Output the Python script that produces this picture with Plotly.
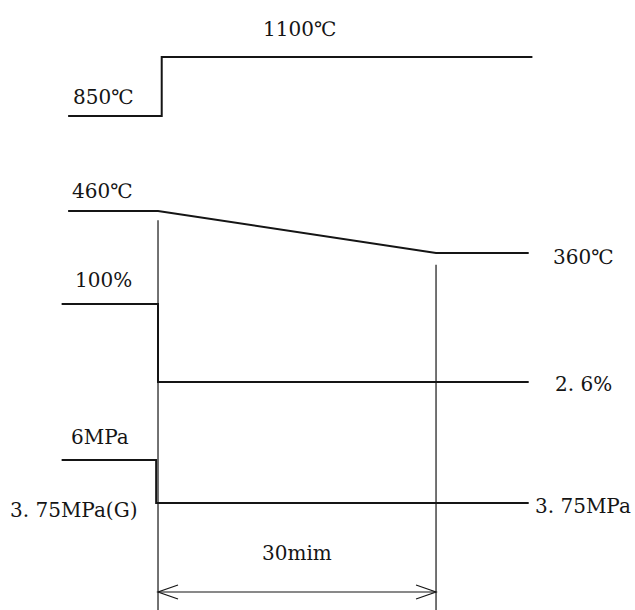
import plotly.graph_objects as go

# Time axis in minutes: 0 = switch-over, 30 = end of ramp
furnace_t = [-9.7, 0.4, 0.4, 40.4]
furnace_temp = [850, 850, 1100, 1100]          # ℃

gas_t = [-9.7, 0.0, 30.0, 40.0]
gas_temp = [460, 460, 360, 360]                # ℃

load_t = [-10.4, 0.0, 0.0, 40.0]
load_pct = [100, 100, 2.6, 2.6]                # %

press_t = [-10.4, -0.2, -0.2, 40.0]
press_mpa = [6, 6, 3.75, 3.75]                 # MPa

span_start, span_end = 0, 30
span_label = "30mim"

INK = "#151515"
FONT = dict(family="DejaVu Serif, Noto Sans CJK SC, serif", size=20, color=INK)

fig = go.Figure()
series = [
    (furnace_t, furnace_temp, "y"),
    (gas_t, gas_temp, "y2"),
    (load_t, load_pct, "y3"),
    (press_t, press_mpa, "y4"),
]
for t, v, ax in series:
    fig.add_trace(go.Scatter(x=t, y=v, yaxis=ax, mode="lines",
                             line=dict(color=INK, width=2), showlegend=False,
                             hoverinfo="skip"))

# vertical guides at the start and end of the 30 min span
fig.add_shape(type="line", xref="x", yref="paper", x0=span_start, x1=span_start,
              y0=0, y1=0.639, line=dict(color=INK, width=1.2))
fig.add_shape(type="line", xref="x", yref="paper", x0=span_end, x1=span_end,
              y0=0, y1=0.566, line=dict(color=INK, width=1.2))

# dimension arrow with open chevron heads
arrow_y = 0.0295
fig.add_shape(type="line", xref="x", yref="paper", x0=span_start, x1=span_end,
              y0=arrow_y, y1=arrow_y, line=dict(color=INK, width=1.2))
for x_tip, sign in [(span_start, 1), (span_end, -1)]:
    fig.add_shape(type="path", xref="x", yref="paper",
                  xsizemode="pixel", ysizemode="pixel",
                  xanchor=x_tip, yanchor=arrow_y,
                  path=f"M {20*sign},7 L 0,0 L {20*sign},-7",
                  line=dict(color=INK, width=1.2))

labels = [
    ("1100℃", 15.3, 1100, "y", 28),
    ("850℃", -5.9, 850, "y", 19),
    ("460℃", -6.0, 460, "y2", 20),
    ("360℃", 45.9, 360, "y2", -4),
    ("100%", -5.9, 100, "y3", 24),
    ("2. 6%", 45.9, 2.6, "y3", -2),
    ("6MPa", -6.3, 6, "y4", 23),
    ("3. 75MPa(G)", -9.1, 3.75, "y4", -7),
    ("3. 75MPa", 45.9, 3.75, "y4", -3),
]
for text, x, y, ax, dy in labels:
    fig.add_annotation(text=text, x=x, y=y, xref="x", yref=ax, yshift=dy,
                       showarrow=False, font=FONT)
fig.add_annotation(text=span_label, x=(span_start + span_end) / 2, y=arrow_y,
                   xref="x", yref="paper", yshift=25, showarrow=False, font=FONT)

hidden = dict(visible=False, showgrid=False, zeroline=False, fixedrange=True)
fig.update_layout(
    width=635, height=610,
    margin=dict(l=0, r=0, t=0, b=0),
    paper_bgcolor="white", plot_bgcolor="white",
    xaxis=dict(range=[-17.05, 51.47], **hidden),
    yaxis=dict(range=[-1243, 1341.5], **hidden),
    yaxis2=dict(range=[-490, 962.4], overlaying="y", **hidden),
    yaxis3=dict(range=[-282.1, 479.6], overlaying="y", **hidden),
    yaxis4=dict(range=[-1.85, 30.07], overlaying="y", **hidden),
)

fig.write_html("out.html")
